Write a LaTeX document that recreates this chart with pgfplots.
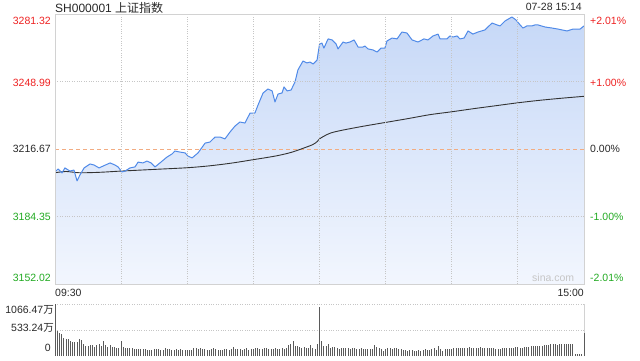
\documentclass[border=0pt]{standalone}
\usepackage{pgfplots}
\pgfplotsset{compat=1.18}
\usepackage{pgfplotstable}
\usepackage{fontspec}
\setmainfont{Liberation Sans}
\newfontfamily\cjk{Noto Sans CJK SC}
\definecolor{upred}{RGB}{238,34,34}
\definecolor{dngreen}{RGB}{34,170,34}
\definecolor{txt}{RGB}{40,40,40}
\definecolor{pline}{RGB}{80,138,232}
\definecolor{ftop}{RGB}{198,216,247}
\definecolor{fbot}{RGB}{242,246,254}
\definecolor{orangeline}{RGB}{242,172,130}
\definecolor{volc}{RGB}{90,90,90}
\newcommand{\fs}{\fontsize{10.5}{12}\selectfont}

\pgfplotstableread{
i v
0 3205.7
1.4 3207.1
3.2 3205.2
4.5 3207.6
6.8 3206.1
8.6 3206.6
10 3201.4
11.3 3204.2
13.2 3207.6
15.9 3209.5
17.7 3209.0
20 3207.6
21.8 3208.5
25 3210.0
27.2 3209.0
28.6 3208.1
30.4 3205.7
31.8 3206.1
34 3207.6
36.3 3208.1
37.7 3210.4
39.9 3210.0
41.7 3210.9
43.6 3210.0
45.4 3208.1
47.6 3210.0
50.8 3212.8
53.1 3214.3
54.4 3215.7
56.7 3215.2
59 3214.8
60.3 3213.3
62.2 3212.4
64.9 3214.8
68.1 3219.5
70.3 3220.0
72.6 3222.4
74.9 3222.4
77.1 3221.5
79.4 3224.8
81.7 3227.7
83.9 3229.6
86.2 3229.1
88.5 3233.9
90.7 3233.9
92.1 3237.7
94.4 3243.5
96.6 3245.4
98.5 3244.5
99.8 3239.2
101.2 3243.0
103 3243.5
103.9 3246.4
105.3 3244.5
107.1 3244.9
108.9 3248.8
110.2 3254.5
112.5 3258.8
114.3 3257.9
115.7 3258.3
117.1 3257.4
118.9 3259.3
120 3266.8
121.1 3267.4
122 3265.0
123.9 3269.4
125.7 3268.9
127.5 3267.0
128.4 3264.6
130.7 3267.9
132 3267.4
133.8 3267.9
135.7 3268.9
137.5 3265.5
139.7 3265.5
140.6 3266.0
142 3264.6
144.3 3264.1
146.1 3263.1
147.9 3265.0
149.7 3265.0
150.6 3268.4
152.9 3269.8
155.2 3269.4
157.4 3272.7
159.7 3272.2
162 3268.9
164.7 3267.9
167.4 3269.4
169.2 3268.9
171.5 3270.8
173.8 3271.7
174.7 3269.4
177.8 3269.4
179.2 3270.8
180.6 3270.3
182.4 3270.8
183.7 3269.4
185.6 3269.8
187.4 3273.2
189.6 3271.7
191.9 3272.7
195.1 3273.7
196.4 3275.1
198.3 3277.0
200.5 3276.1
201.9 3275.6
204.2 3278.0
207.3 3279.9
209.1 3278.5
211 3276.1
212.3 3274.6
214.1 3275.6
216.4 3275.6
217.8 3276.1
219.1 3276.1
222.3 3275.1
225.5 3274.6
228.2 3274.1
232.3 3273.2
235 3274.1
238.2 3274.1
240 3275.6
}\price

\pgfplotstableread{
i v
0 3205.3
5 3205.9
11 3205.3
20 3205.5
30 3206.1
45 3206.9
60 3207.7
70 3208.6
80 3209.9
89 3211.4
100 3213.3
107 3215.0
112 3216.8
117 3218.8
119 3220.3
120 3221.5
122 3222.8
125 3224.3
130 3225.6
140 3227.6
150 3229.4
160 3231.2
170 3233.1
180 3234.5
190 3236.0
200 3237.4
210 3238.8
220 3240.0
230 3241.0
240 3241.9
}\avgline

\pgfplotstableread{
i v
0 1066
1 513
2 478
3 444
4 376
5 355
6 355
7 308
8 294
9 294
10 294
11 355
12 321
13 253
14 205
15 205
16 226
17 226
18 191
19 218
20 240
21 205
22 308
23 218
24 191
25 226
26 191
27 185
28 164
29 171
30 308
31 185
32 171
33 171
34 157
35 171
36 150
37 150
38 137
39 137
40 137
41 150
42 130
43 130
44 130
45 150
46 137
47 137
48 130
49 130
50 164
51 150
52 137
53 130
54 123
55 137
56 130
57 150
58 123
59 130
60 130
61 130
62 123
63 157
64 157
65 137
66 171
67 150
68 137
69 130
70 130
71 150
72 157
73 137
74 130
75 130
76 123
77 137
78 137
79 130
80 137
81 185
82 150
83 137
84 137
85 130
86 150
87 164
88 130
89 137
90 150
91 164
92 171
93 137
94 150
95 164
96 157
97 137
98 150
99 150
100 164
101 137
102 150
103 171
104 137
105 157
106 218
107 240
108 308
109 205
110 205
111 191
112 171
113 191
114 157
115 171
116 218
117 171
118 150
119 240
120 998
121 308
122 205
123 205
124 239
125 171
126 185
127 185
128 171
129 150
130 157
131 157
132 157
133 157
134 150
135 157
136 171
137 150
138 137
139 157
140 137
141 137
142 150
143 137
144 137
145 226
146 185
147 157
148 137
149 103
150 137
151 157
152 171
153 150
154 171
155 157
156 137
157 150
158 123
159 123
160 103
161 116
162 116
163 103
164 103
165 116
166 103
167 116
168 137
169 116
170 116
171 137
172 171
173 123
174 205
175 137
176 103
177 137
178 137
179 137
180 137
181 157
182 171
183 171
184 171
185 157
186 157
187 171
188 185
189 171
190 157
191 171
192 171
193 185
194 157
195 171
196 157
197 157
198 157
199 171
200 150
201 150
202 150
203 171
204 171
205 171
206 157
207 171
208 171
209 185
210 185
211 171
212 171
213 191
214 185
215 191
216 205
217 205
218 205
219 205
220 205
221 205
222 219
223 219
224 219
225 239
226 239
227 239
228 226
229 239
230 253
231 239
232 253
233 253
234 239
235 253
236 34
237 34
238 34
239 34
240 478
}\vol

\begin{document}
\begin{tikzpicture}
\useasboundingbox (0pt,0pt) rectangle (640pt,360pt);

% main price panel
\begin{axis}[
  at={(55pt,76pt)}, anchor=south west, scale only axis,
  width=529pt, height=270pt,
  xmin=0, xmax=240, ymin=3152.02, ymax=3281.32,
  xtick={30,60,90,120,150,180,210}, ytick={3184.35,3248.99},
  xticklabels={}, yticklabels={}, major tick length=0pt,
  grid=major, grid style={gray!45, line width=0.8pt, dash pattern=on 1pt off 1.4pt},
  axis line style={gray!35, line width=0.9pt},
  axis on top,
]
\addplot[top color=ftop, bottom color=fbot, draw=none] table[x=i, y=v] {\price}
  -- (axis cs:240,3152.02) -- (axis cs:0,3152.02) -- cycle;
\addplot[draw=orangeline, line width=0.9pt, dash pattern=on 4pt off 3pt, mark=none] coordinates {(0,3216.67) (240,3216.67)};
\addplot[draw=black!80, line width=0.9pt, smooth, mark=none] table[x=i, y=v] {\avgline};
\addplot[draw=pline, line width=1pt, line join=round, mark=none] table[x=i, y=v] {\price};
\end{axis}

% volume panel
\begin{axis}[
  at={(55pt,4pt)}, anchor=south west, scale only axis,
  width=529pt, height=52pt,
  xmin=0, xmax=240, ymin=0, ymax=1066.47,
  xtick=\empty, ytick={533.24,1066.47}, yticklabels={}, major tick length=0pt,
  ymajorgrids, grid style={gray!45, line width=0.8pt, dash pattern=on 1pt off 1.4pt},
  axis line style={draw=none},
  clip=false,
]
\draw[gray!35, line width=0.9pt] (rel axis cs:1,0) -- (rel axis cs:1,1);
\addplot[ycomb, draw=volc, line width=1pt, mark=none] table[x=i, y=v] {\vol};
\end{axis}

% titles
\node[anchor=base west, inner sep=0, text=txt] at (55pt,348pt) {\fontsize{12}{14}\selectfont SH000001 {\cjk 上证指数}};
\node[anchor=base east, inner sep=0, text=txt] at (582pt,349.5pt) {\fs 07-28 15:14};

% left labels
\node[anchor=east, inner sep=0, text=upred] at (51pt,339.5pt) {\fs 3281.32};
\node[anchor=east, inner sep=0, text=upred] at (51pt,277.5pt) {\fs 3248.99};
\node[anchor=east, inner sep=0, text=txt] at (51pt,211pt) {\fs 3216.67};
\node[anchor=east, inner sep=0, text=dngreen] at (51pt,143.5pt) {\fs 3184.35};
\node[anchor=east, inner sep=0, text=dngreen] at (51pt,82pt) {\fs 3152.02};

% right labels
\node[anchor=west, inner sep=0, text=upred] at (590pt,339.5pt) {\fs +2.01\%};
\node[anchor=west, inner sep=0, text=upred] at (590pt,277.5pt) {\fs +1.00\%};
\node[anchor=west, inner sep=0, text=txt] at (590pt,211pt) {\fs 0.00\%};
\node[anchor=west, inner sep=0, text=dngreen] at (590pt,143.5pt) {\fs -1.00\%};
\node[anchor=west, inner sep=0, text=dngreen] at (590pt,82pt) {\fs -2.01\%};

% time labels
\node[anchor=base west, inner sep=0, text=txt] at (55pt,63.3pt) {\fs 09:30};
\node[anchor=base east, inner sep=0, text=txt] at (584pt,63.3pt) {\fs 15:00};
\node[anchor=base west, inner sep=0, text=gray!45] at (532pt,78.3pt) {\fs sina.com};

% volume labels
\node[anchor=east, inner sep=0, text=txt] at (54pt,50pt) {\fs 1066.47{\cjk 万}};
\node[anchor=east, inner sep=0, text=txt] at (54pt,31.7pt) {\fs 533.24{\cjk 万}};
\node[anchor=east, inner sep=0, text=txt] at (51pt,12.5pt) {\fs 0};
\end{tikzpicture}
\end{document}
